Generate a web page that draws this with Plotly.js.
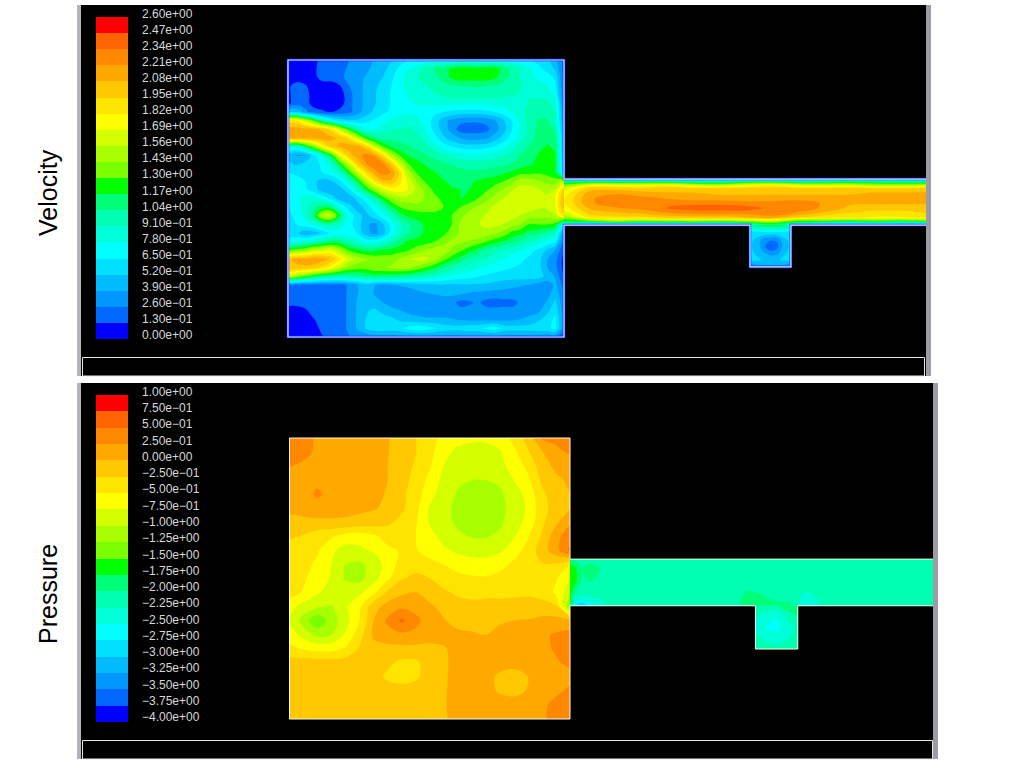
<!DOCTYPE html>
<html><head><meta charset="utf-8">
<script src="https://cdn.plot.ly/plotly-3.0.1.min.js"></script>
<style>html,body{margin:0;padding:0;background:#fff}#c{width:1024px;height:768px}</style>
</head><body><div id="c"></div>
<script>
const bandColors=["#0000ff","#0068ff","#0098ff","#00bcff","#00e0ff","#00ffff","#00ffd8","#00ffb0","#00ff78","#00ff00","#78ff00","#a8ff00","#d4ff00","#ffff00","#ffe400","#ffc800","#ffa800","#ff8800","#ff6400","#ff0000"];
const velocityLabels=["2.60e+00","2.47e+00","2.34e+00","2.21e+00","2.08e+00","1.95e+00","1.82e+00","1.69e+00","1.56e+00","1.43e+00","1.30e+00","1.17e+00","1.04e+00","9.10e−01","7.80e−01","6.50e−01","5.20e−01","3.90e−01","2.60e−01","1.30e−01","0.00e+00"];
const pressureLabels=["1.00e+00","7.50e−01","5.00e−01","2.50e−01","0.00e+00","−2.50e−01","−5.00e−01","−7.50e−01","−1.00e+00","−1.25e+00","−1.50e+00","−1.75e+00","−2.00e+00","−2.25e+00","−2.50e+00","−2.75e+00","−3.00e+00","−3.25e+00","−3.50e+00","−3.75e+00","−4.00e+00"];

const velocityCavity=[
[.04,.04,.04,.06,.2,.2,.2,.25,.33,.33,.4,.45,.5,.6,.65,.65,.7,.7,.7,.7,.7,.7,.7,.7,.7,.7,.7,.65,.65,.6,.55,.45,.2],
[.04,.04,.04,.1,.2,.2,.2,.28,.33,.36,.42,.47,.58,.68,.78,.85,.95,1.05,1.1,1.2,1.25,1.25,1.22,1.25,1.25,1.1,1,.9,.8,.7,.6,.5,.2],
[.04,.04,.04,.08,.2,.2,.22,.3,.33,.4,.45,.52,.62,.75,.83,.9,.97,1.02,1.08,1.2,1.25,1.25,1.25,1.25,1.2,1.08,1,.9,.82,.75,.72,.62,.2],
[.1,.2,.15,.05,.05,.05,.12,.25,.33,.42,.48,.58,.65,.75,.82,.87,.9,.95,1,1.02,1.04,1.04,1.05,1.04,1.02,1,.97,.92,.87,.83,.8,.68,.2],
[.1,.2,.2,.05,.05,.05,.06,.2,.33,.42,.5,.6,.66,.72,.8,.85,.88,.9,.93,.97,.98,.98,.98,.98,.96,.94,.92,.9,.9,.88,.85,.75,.2],
[.1,.2,.2,.06,.05,.05,.06,.2,.33,.42,.5,.6,.66,.72,.76,.79,.8,.82,.82,.82,.82,.82,.82,.82,.82,.83,.85,.88,.92,.95,.95,.85,.25],
[.5,.5,.3,.2,.15,.12,.17,.22,.33,.45,.55,.62,.68,.74,.76,.76,.73,.68,.65,.62,.6,.6,.6,.62,.65,.72,.8,.88,.96,1,1,.9,.3],
[1.9,1.85,1.6,1.3,.95,.75,.6,.55,.55,.6,.67,.74,.8,.84,.85,.8,.72,.6,.45,.35,.3,.28,.28,.3,.38,.5,.66,.82,.97,1.05,1.05,.95,.3],
[2.15,2.15,2.15,2.12,2.05,1.9,1.6,1.25,.97,.8,.78,.85,.9,.92,.93,.88,.78,.6,.47,.33,.2,.2,.2,.22,.33,.47,.65,.83,.97,1.07,1.1,1.02,.35],
[2.15,2.15,2.15,2.15,2.15,2.12,2.05,1.9,1.6,1.25,1.08,1,1,1,1,.95,.85,.7,.55,.45,.38,.33,.33,.36,.45,.58,.72,.85,1,1.08,1.13,1.1,.38],
[.9,.8,1.1,1.4,1.75,2,2.1,2.15,2.15,2,1.6,1.3,1.15,1.08,1.05,1,.95,.85,.72,.65,.6,.58,.58,.6,.66,.74,.85,.97,1.05,1.13,1.18,1.15,.4],
[.45,.38,.38,.6,.85,1.2,1.7,2,2.15,2.25,2.2,1.9,1.5,1.28,1.15,1.1,1.05,1,.93,.87,.83,.8,.8,.82,.85,.9,.97,1.05,1.1,1.18,1.2,1.18,.4],
[.55,.5,.55,.6,.68,.85,1.2,1.55,1.95,2.2,2.3,2.25,2,1.6,1.3,1.22,1.15,1.1,1.07,1.03,1,.98,.98,.98,1,1.02,1.05,1.1,1.15,1.2,1.22,1.18,.45],
[.65,.62,.58,.6,.65,.73,.9,1.2,1.55,1.9,2.15,2.28,2.2,1.9,1.48,1.28,1.22,1.18,1.12,1.1,1.08,1.07,1.07,1.08,1.1,1.15,1.2,1.25,1.25,1.28,1.25,1.2,.5],
[.72,.7,.65,.55,.47,.5,.62,.85,1.15,1.5,1.85,2.05,2.05,1.85,1.65,1.4,1.28,1.22,1.18,1.15,1.15,1.15,1.18,1.22,1.25,1.3,1.38,1.5,1.5,1.45,1.4,1.35,1.6],
[.72,.72,.68,.58,.46,.4,.45,.6,.85,1.15,1.4,1.62,1.75,1.75,1.68,1.52,1.38,1.26,1.2,1.18,1.17,1.17,1.2,1.28,1.36,1.45,1.55,1.62,1.62,1.58,1.52,1.58,2],
[.68,.75,.85,.85,.75,.62,.45,.42,.55,.72,.97,1.22,1.4,1.5,1.5,1.5,1.4,1.35,1.25,1.2,1.17,1.2,1.3,1.4,1.48,1.56,1.64,1.66,1.65,1.62,1.6,1.7,2.1],
[.65,.72,.85,1,1.12,1.1,.8,.6,.46,.55,.72,.92,1.15,1.3,1.35,1.38,1.38,1.36,1.3,1.28,1.3,1.38,1.45,1.5,1.6,1.65,1.68,1.65,1.62,1.58,1.58,1.68,2.1],
[.62,.68,.82,1.1,1.55,1.6,1.15,.75,.58,.48,.58,.72,.9,1.1,1.2,1.22,1.24,1.25,1.25,1.3,1.4,1.48,1.52,1.58,1.66,1.68,1.62,1.55,1.5,1.48,1.48,1.55,1.9],
[.6,.65,.72,.8,.92,.95,.85,.7,.6,.42,.35,.5,.7,.88,1.03,1.12,1.2,1.23,1.22,1.3,1.45,1.5,1.55,1.6,1.6,1.55,1.48,1.42,1.28,1.3,1.3,1.25,.6],
[.58,.55,.42,.45,.55,.68,.72,.7,.65,.45,.35,.45,.72,.9,1.02,1.12,1.2,1.22,1.25,1.38,1.45,1.5,1.52,1.5,1.45,1.38,1.25,1.2,1.12,1.08,1,.9,.3],
[.7,.78,.85,.92,1,1.1,1.1,.97,.85,.75,.75,.85,.97,1.1,1.2,1.22,1.25,1.3,1.4,1.45,1.45,1.42,1.38,1.3,1.22,1.15,1.08,1,.9,.85,.75,.65,.2],
[1.3,1.4,1.45,1.6,1.65,1.7,1.5,1.3,1.22,1.15,1.15,1.2,1.22,1.25,1.3,1.38,1.45,1.5,1.5,1.42,1.32,1.22,1.12,1,.95,.88,.82,.78,.7,.62,.5,.38,.15],
[2.05,2.12,2.15,2.2,2.15,2.05,1.85,1.65,1.5,1.45,1.4,1.38,1.38,1.45,1.55,1.6,1.6,1.5,1.35,1.22,1.12,1,.95,.9,.85,.78,.72,.68,.62,.58,.4,.3,.08],
[2.05,2.05,2.05,2,1.9,1.75,1.55,1.4,1.36,1.35,1.4,1.42,1.45,1.48,1.45,1.38,1.28,1.18,1.05,.97,.9,.85,.8,.75,.72,.68,.65,.62,.6,.58,.4,.3,.08],
[1.6,1.45,1.28,1.15,1.03,1,.97,.97,1,1.05,1.1,1.1,1.08,1.05,1.02,.98,.92,.87,.8,.75,.72,.7,.66,.62,.6,.58,.58,.58,.58,.58,.48,.38,.12],
[.22,.2,.2,.2,.2,.2,.2,.28,.38,.47,.4,.33,.36,.4,.42,.45,.47,.48,.5,.5,.5,.5,.5,.5,.47,.45,.42,.4,.38,.33,.3,.42,.2],
[.18,.2,.2,.2,.2,.2,.2,.28,.38,.47,.38,.31,.3,.3,.32,.35,.38,.4,.42,.42,.4,.37,.36,.34,.33,.33,.33,.32,.3,.3,.32,.48,.25],
[.18,.18,.2,.2,.2,.2,.2,.28,.4,.48,.45,.39,.33,.3,.3,.3,.3,.3,.3,.3,.22,.24,.28,.22,.2,.22,.22,.28,.3,.33,.4,.55,.28],
[.06,.06,.1,.2,.2,.2,.2,.28,.4,.5,.55,.48,.44,.4,.36,.33,.31,.3,.3,.3,.3,.3,.3,.3,.3,.3,.3,.3,.32,.36,.48,.62,.3],
[.04,.04,.05,.12,.2,.2,.2,.28,.4,.52,.62,.6,.55,.5,.46,.44,.42,.42,.42,.4,.38,.36,.36,.36,.36,.36,.37,.4,.44,.5,.58,.68,.3],
[.04,.04,.04,.06,.18,.2,.2,.28,.4,.52,.6,.6,.58,.62,.7,.75,.72,.66,.6,.58,.58,.62,.62,.68,.72,.6,.58,.58,.58,.6,.62,.68,.3],
[.03,.03,.03,.05,.12,.15,.2,.25,.3,.3,.32,.33,.33,.33,.33,.33,.33,.33,.33,.33,.33,.33,.33,.33,.33,.33,.33,.33,.33,.33,.3,.3,.15]];

const velocityChannelY=[57,56,54.9,53.7,51.9,50.1,48.3,46.5,44.7,43.1,41.9,40.4];
const velocityChannel=[
[.8,.45,.4,.4,.4,.4,.4,.4,.4,.4,.4,.4,.4,.4,.4],
[1.1,1.1,1.1,1.1,1.1,1,1,1.1,1.15,1,1.05,1.15,1.1,1.05,1.05],
[1.35,1.7,1.7,1.7,1.75,1.6,1.5,1.7,1.8,1.65,1.6,1.6,1.45,1.45,1.5],
[1.6,2,2,1.95,2,1.95,1.95,1.95,2,1.95,1.95,2,1.95,1.95,2],
[1.75,2.15,2.2,2.15,2.1,2.1,2.05,2.05,2.05,2.05,2.05,2.05,2.1,2.1,2.1],
[1.8,2.2,2.25,2.25,2.2,2.15,2.15,2.15,2.15,2.15,2.15,2.15,2.15,2.15,2.15],
[1.8,2.2,2.25,2.3,2.3,2.3,2.3,2.25,2.25,2.3,2.2,2.1,2.1,2.1,2.1],
[1.75,2.1,2.2,2.25,2.35,2.42,2.42,2.42,2.3,2.25,2.2,2.05,2,2,2],
[1.6,2,2.05,2.1,2.2,2.25,2.25,2.25,2.3,2.2,2.05,1.95,1.9,1.9,1.95],
[1.4,1.85,1.9,1.9,2,2,2,2.05,2.15,1.95,1.85,1.85,1.8,1.8,1.85],
[1.2,1.3,1.5,1.45,1.45,1.5,1.45,1.5,1.6,1.3,1.3,1.2,1.3,1.2,1.3],
[.8,.4,.4,.4,.4,.4,.4,.6,1,.8,.4,.4,.4,.4,.4]];

const velocitySump=[
[1,1.15,1.2,1.2,1.2,1.15,1],
[.6,.6,.65,.65,.65,.65,.6],
[.55,.5,.35,.3,.3,.5,.55],
[.55,.45,.3,.12,.22,.45,.55],
[.55,.5,.4,.33,.35,.5,.55],
[.55,.55,.5,.5,.5,.55,.55],
[.2,.3,.35,.35,.35,.3,.2]];

const pressureCavity=[
[.4,.36,.2,.15,.13,.12,.08,.02,-.1,-.25,-.38,-.6,-.68,-.7,-.7,-.62,-.42,-.15,.28,.3,.4],
[.4,.33,.2,.14,.12,.12,.09,.01,-.12,-.24,-.42,-.68,-.8,-.85,-.85,-.78,-.55,-.28,-.02,.2,.28],
[.26,.2,.12,.12,.12,.12,.08,0,-.15,-.28,-.47,-.75,-.9,-.92,-.92,-.85,-.62,-.45,-.1,.05,.12],
[.14,.15,.18,.15,.12,.12,.07,0,-.17,-.32,-.58,-.82,-.95,-1,-1,-.95,-.75,-.55,-.2,-.05,.04],
[.12,.14,.3,.15,.12,.1,.06,-.02,-.2,-.36,-.68,-.85,-1.03,-1.12,-1.12,-1.05,-.85,-.68,-.3,-.12,0],
[.1,.12,.12,.12,.1,.05,.02,-.05,-.2,-.42,-.78,-.9,-1.08,-1.15,-1.15,-1.08,-.88,-.72,-.33,-.15,-.02],
[-.15,-.08,-.05,-.05,-.06,-.08,-.12,-.2,-.33,-.47,-.78,-.9,-1.05,-1.12,-1.12,-1.05,-.85,-.68,-.3,-.05,.2],
[-.2,-.27,-.4,-.47,-.6,-.65,-.55,-.4,-.42,-.5,-.65,-.85,-.95,-1.02,-1.02,-.95,-.78,-.52,-.22,.15,.42],
[-.42,-.4,-.48,-.7,-.85,-.8,-.72,-.55,-.48,-.48,-.6,-.7,-.8,-.85,-.85,-.8,-.6,-.42,-.12,.15,.55],
[-.45,-.42,-.55,-.75,-1,-1.05,-.9,-.65,-.4,-.33,-.42,-.5,-.6,-.65,-.65,-.58,-.45,-.35,-.27,-.28,-.5],
[-.45,-.47,-.62,-.78,-1.03,-1.08,-.85,-.55,-.27,-.2,-.25,-.33,-.42,-.46,-.47,-.42,-.37,-.33,-.36,-.48,-.75],
[-.4,-.52,-.72,-.88,-.85,-.8,-.55,-.2,-.05,0,-.12,-.22,-.28,-.3,-.3,-.3,-.28,-.27,-.33,-.55,-.9],
[-.65,-.85,-.95,-1.02,-.8,-.55,-.1,.1,.2,.15,.05,-.08,-.18,-.2,-.18,-.18,-.2,-.2,-.17,-.2,-1.3],
[-.75,-1.12,-1.45,-1.12,-.85,-.5,0,.3,.55,.32,.13,.02,-.08,-.1,-.06,-.02,0,.02,.08,.08,.08],
[-.6,-.85,-1.08,-1,-.72,-.35,.05,.15,.2,.18,.12,.1,.05,.03,0,.05,.1,.12,.2,.28,.35],
[-.45,-.52,-.58,-.58,-.47,-.22,-.1,-.08,-.08,-.08,-.08,-.03,.1,.12,.12,.12,.12,.14,.18,.28,.38],
[-.12,-.12,-.12,-.12,-.12,-.12,-.12,-.2,-.3,-.3,-.12,-.05,.1,.12,.12,.1,.08,.12,.15,.22,.3],
[-.12,-.12,-.12,-.12,-.12,-.12,-.15,-.3,-.35,-.3,-.12,-.04,.1,.12,.08,-.05,-.1,0,.12,.15,.18],
[-.12,-.12,-.12,-.12,-.12,-.12,-.12,-.12,-.15,-.12,-.1,-.03,.1,.12,.08,-.03,-.08,.02,.12,.2,.3],
[-.12,-.12,-.12,-.12,-.12,-.12,-.12,-.12,-.12,-.12,-.08,-.02,.08,.12,.12,.12,.12,.12,.2,.32,.38],
[-.12,-.12,-.12,-.12,-.12,-.12,-.12,-.12,-.12,-.12,-.08,-.03,.08,.12,.12,.12,.12,.12,.2,.35,.4]];

const pressureChannelX=[100,101.8,104.2,107.1,110.7,116.6,158.2,163.6,168.9,178.4,184.4,190.3,229.8];
const pressureChannelY=[56.9,53.6,48.9,44.1,42.3,40.3];
const pressureChannel=[
[-1.9,-2.05,-2.1,-2.05,-2.12,-2.12,-2.12,-2.12,-2.12,-2.12,-2.12,-2.12,-2.12],
[-1.6,-1.7,-2,-1.95,-2,-2.12,-2.12,-2.12,-2.12,-2.12,-2.12,-2.12,-2.12],
[-1.5,-1.65,-2.05,-2,-2.1,-2.12,-2.12,-2.12,-2.12,-2.12,-2.12,-2.12,-2.12],
[-1.7,-2.1,-2.2,-2.2,-2.15,-2.12,-2.1,-1.95,-2,-2.12,-2.3,-2.15,-2.12],
[-1.7,-2.3,-2.5,-2.45,-2.3,-2.12,-2.1,-1.9,-1.95,-2.1,-2.4,-2.2,-2.12],
[-1.8,-2.8,-3.1,-2.6,-2.3,-2.12,-2.1,-1.9,-1.9,-1.9,-2.35,-2.2,-2.12]];
const pressureSumpX=[166.1,170.1,173.7,177.3,181.2];
const pressureSumpY=[40.3,37,32.3,28.1,24.9];
const pressureSump=[
[-2.05,-2,-2.05,-1.8,-1.85],
[-2.2,-2.4,-2.48,-2.2,-1.95],
[-2.3,-2.52,-2.55,-2.4,-2.15],
[-2.15,-2.3,-2.35,-2.25,-2.12],
[-2.12,-2.12,-2.12,-2.12,-2.12]];

const velocityWallX=[231.2,100,100,0,0,100,100,167.4,167.4,182.2,182.2,231.2];
const velocityWallY=[57,57,100,100,0,0,40.4,40.4,25.3,25.3,40.4,40.4];
const pressureWallX=[229.8,100,100,0,0,100,100,166.1,166.1,181.2,181.2,229.8];
const pressureWallY=[56.9,56.9,100,100,0,0,40.3,40.3,24.9,24.9,40.3,40.3];

[[velocityCavity,33],[pressureCavity,21]].forEach(([m,n])=>m.forEach((r,i)=>{if(r.length!==n||m.length!==n)throw new Error('grid row '+i+' has '+r.length);}));

const px=v=>v/1024, py=v=>1-v/768;
const cs=[];bandColors.forEach((c,k)=>{cs.push([k/20,c]);cs.push([(k+1)/20,c]);});
const num=s=>Number(s.replace(/−/g,'-'));

function field(ax,ay,z,zmin,zmax,extra){
  return Object.assign({type:'contour',xaxis:ax,yaxis:ay,z,zmin,zmax,zauto:false,autocontour:false,
    contours:{coloring:'fill',start:zmin,end:zmax,size:(zmax-zmin)/20,showlines:false},
    line:{width:0,smoothing:1},colorscale:cs,showscale:false,hoverinfo:'skip'},extra);
}
function legendBar(ax,ay,labels){
  const lv=labels.map(num), mids=lv.slice(0,-1).map((v,i)=>(v+lv[i+1])/2);
  return {type:'heatmap',xaxis:ax,yaxis:ay,x:[0],y:mids,z:mids.map(m=>[m]),zmin:lv[20],zmax:lv[0],zauto:false,
    colorscale:cs,showscale:false,hoverinfo:'skip'};
}
function wall(ax,ay,x,y,color,width){
  return {type:'scatter',mode:'lines',xaxis:ax,yaxis:ay,x,y,line:{color,width},hoverinfo:'skip',showlegend:false};
}
const data=[
 field('x','y',velocityCavity,0,2.6,{x0:0,dx:100/32,y0:100,dy:-100/32}),
 field('x','y',velocitySump,0,2.6,{x0:167.4,dx:14.8/6,y0:40.4,dy:-15.1/6}),
 field('x','y',velocityChannel,0,2.6,{x0:100,dx:131.2/14,y:velocityChannelY}),
 wall('x','y',velocityWallX,velocityWallY,'#1030ff',2.5),
 wall('x','y',velocityWallX,velocityWallY,'#dfe4ff',1.2),
 field('x2','y2',pressureCavity,-4,1,{x0:0,dx:100/20,y0:100,dy:-100/20}),
 field('x2','y2',pressureSump,-4,1,{x:pressureSumpX,y:pressureSumpY}),
 field('x2','y2',pressureChannel,-4,1,{x:pressureChannelX,y:pressureChannelY}),
 wall('x2','y2',pressureWallX,pressureWallY,'#f8f8e8',1),
 legendBar('x3','y3',velocityLabels),
 legendBar('x4','y4',pressureLabels)
];
const hidden={visible:false,fixedrange:true};
const layout={
 width:1024,height:768,margin:{l:0,r:0,t:0,b:0},paper_bgcolor:'#fff',plot_bgcolor:'#000',showlegend:false,
 font:{family:'"Liberation Sans",Arial,sans-serif'},
 xaxis:{...hidden,domain:[px(81),px(926)],range:[(81-288)/2.76,(926-288)/2.76]},
 yaxis:{...hidden,domain:[py(376),py(5)],range:[(337-376)/2.77,(337-5)/2.77]},
 xaxis2:{...hidden,domain:[px(81),px(934)],range:[(81-289.5)/2.805,(934-289.5)/2.805]},
 yaxis2:{...hidden,domain:[py(759),py(383)],range:[(719-759)/2.81,(719-383)/2.81]},
 xaxis3:{...hidden,domain:[px(96),px(128)]},
 yaxis3:{...hidden,domain:[py(339),py(17)],range:[0,2.6]},
 xaxis4:{...hidden,domain:[px(96),px(128)]},
 yaxis4:{...hidden,domain:[py(722),py(395)],range:[-4,1]},
 shapes:[
  {xref:'paper',yref:'paper',type:'rect',x0:px(77),x1:px(81),y0:py(376),y1:py(5),fillcolor:'#b4b4bc',line:{width:0}},
  {xref:'paper',yref:'paper',type:'rect',x0:px(926),x1:px(931),y0:py(376),y1:py(5),fillcolor:'#9c9ca6',line:{width:0}},
  {xref:'paper',yref:'paper',type:'rect',x0:px(77),x1:px(81),y0:py(759),y1:py(383),fillcolor:'#b4b4bc',line:{width:0}},
  {xref:'paper',yref:'paper',type:'rect',x0:px(933),x1:px(938),y0:py(759),y1:py(383),fillcolor:'#9c9ca6',line:{width:0}},
  {xref:'paper',yref:'paper',type:'rect',x0:px(82.5),x1:px(924.5),y0:py(376),y1:py(357.5),line:{color:'#e8e8e8',width:1}},
  {xref:'paper',yref:'paper',type:'rect',x0:px(82.5),x1:px(932.5),y0:py(759),y1:py(740.5),line:{color:'#e8e8e8',width:1}}
 ],
 annotations:[
  ...velocityLabels.map((t,i)=>({text:t,xref:'paper',yref:'paper',x:px(140),y:py(14+i*321/20),xanchor:'left',yanchor:'middle',showarrow:false,font:{size:12,color:'#d8d8d8'}})),
  ...pressureLabels.map((t,i)=>({text:t,xref:'paper',yref:'paper',x:px(140),y:py(391.7+i*325.6/20),xanchor:'left',yanchor:'middle',showarrow:false,font:{size:12,color:'#d8d8d8'}})),
  {text:'Velocity',xref:'paper',yref:'paper',x:px(48),y:py(193),xanchor:'center',yanchor:'middle',textangle:-90,showarrow:false,font:{size:25,color:'#000'}},
  {text:'Pressure',xref:'paper',yref:'paper',x:px(48),y:py(594),xanchor:'center',yanchor:'middle',textangle:-90,showarrow:false,font:{size:25,color:'#000'}}
 ]
};
Plotly.newPlot('c',data,layout,{displayModeBar:false,staticPlot:true});
</script></body></html>
